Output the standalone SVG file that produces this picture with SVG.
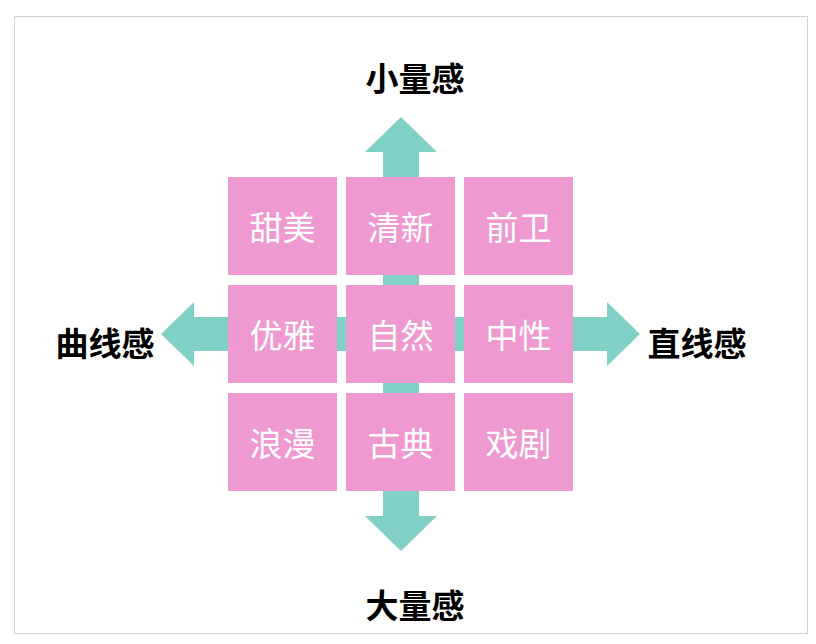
<svg xmlns="http://www.w3.org/2000/svg" width="816" height="644" viewBox="0 0 816 644">
<style>
.b{fill:#ef99d1}
.t{fill:#fff;font-family:"Noto Sans CJK SC",sans-serif;font-size:33px;text-anchor:middle;dominant-baseline:central}
.l{fill:#000;font-family:"Noto Sans CJK SC",sans-serif;font-size:33px;font-weight:bold;text-anchor:middle;dominant-baseline:central}
.a{fill:#80d0c5}
</style>
<rect x="0" y="0" width="816" height="644" fill="#fff"/>
<rect x="14.5" y="16.5" width="793" height="617" fill="#fff" stroke="#d0d0d0"/>
<g id="connectors">
<polygon class="a" points="383,152 365,152 401,117 437,152 419,152 419,516 437,516 401,551 365,516 383,516"/>
<polygon class="a" points="194,317 194,302 161,334 194,366 194,351 607,351 607,366 640,334 607,302 607,317"/>
</g>
<g id="n1"><rect class="b" x="228" y="177" width="109" height="98"/><text class="t" x="282.5" y="226">甜美</text></g>
<g id="n2"><rect class="b" x="346" y="177" width="109" height="98"/><text class="t" x="400.5" y="226">清新</text></g>
<g id="n3"><rect class="b" x="464" y="177" width="109" height="98"/><text class="t" x="518.5" y="226">前卫</text></g>
<g id="n4"><rect class="b" x="228" y="285" width="109" height="98"/><text class="t" x="282.5" y="334">优雅</text></g>
<g id="n5"><rect class="b" x="346" y="285" width="109" height="98"/><text class="t" x="400.5" y="334">自然</text></g>
<g id="n6"><rect class="b" x="464" y="285" width="109" height="98"/><text class="t" x="518.5" y="334">中性</text></g>
<g id="n7"><rect class="b" x="228" y="393" width="109" height="98"/><text class="t" x="282.5" y="442">浪漫</text></g>
<g id="n8"><rect class="b" x="346" y="393" width="109" height="98"/><text class="t" x="400.5" y="442">古典</text></g>
<g id="n9"><rect class="b" x="464" y="393" width="109" height="98"/><text class="t" x="518.5" y="442">戏剧</text></g>
<g id="top"><text class="l" x="415" y="77">小量感</text></g>
<g id="bottom"><text class="l" x="415" y="604">大量感</text></g>
<g id="left"><text class="l" x="105" y="342">曲线感</text></g>
<g id="right"><text class="l" x="697" y="342">直线感</text></g>
</svg>
